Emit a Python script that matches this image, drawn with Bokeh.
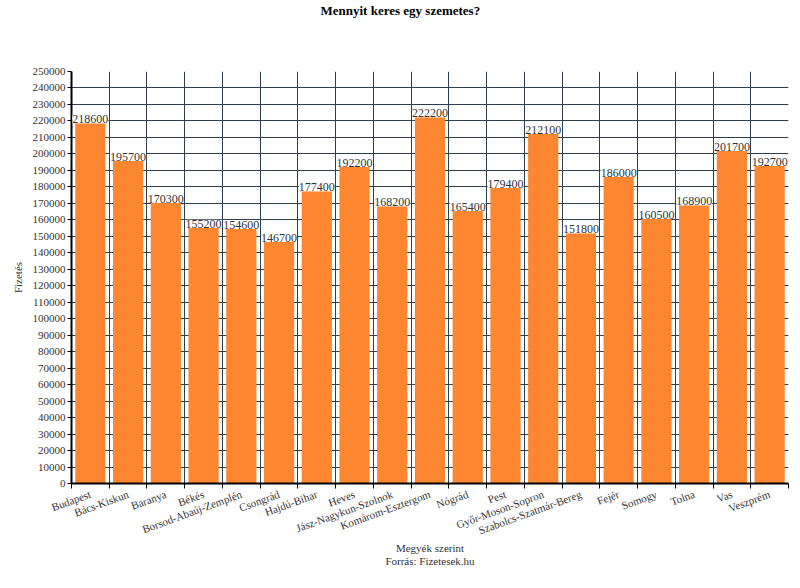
from bokeh.plotting import figure
from bokeh.models import (ColumnDataSource, Range1d, FixedTicker, LabelSet, Title,
                          NumeralTickFormatter)
from bokeh.core.properties import value
from bokeh.embed import file_html
from bokeh.resources import INLINE

counties = ["Budapest", "Bács-Kiskun", "Baranya", "Békés", "Borsod-Abaúj-Zemplén",
            "Csongrád", "Hajdú-Bihar", "Heves", "Jász-Nagykun-Szolnok",
            "Komárom-Esztergom", "Nógrád", "Pest", "Győr-Moson-Sopron",
            "Szabolcs-Szatmár-Bereg", "Fejér", "Somogy", "Tolna", "Vas", "Veszprém"]
salaries = [218600, 195700, 170300, 155200, 154600, 146700, 177400, 192200, 168200,
            222200, 165400, 179400, 212100, 151800, 186000, 160500, 168900, 201700, 192700]
y_ticks = list(range(0, 250001, 10000))

FONT = "Liberation Serif"
ORANGE = "#FD8631"
GRID = "#2E3F50"
TXT = "#333333"

n = len(counties)
xs = [i + 0.5 for i in range(n)]
source = ColumnDataSource(dict(x=xs, salary=salaries,
                               label=[str(v) for v in salaries], county=counties))

p = figure(width=800, height=588, output_backend="svg", toolbar_location=None,
           title=None, x_range=Range1d(0, n), y_range=Range1d(0, 250000),
           min_border_left=71, min_border_right=12, min_border_top=0,
           min_border_bottom=105, background_fill_color="white",
           outline_line_color=None)

p.vbar(x="x", top="salary", width=0.8, source=source,
       fill_color=ORANGE, line_color=None)

labels = LabelSet(x="x", y="salary", text="label", source=source,
                  text_align="center", text_baseline="bottom",
                  text_font=value(FONT), text_font_size="12px", text_color=TXT,
                  background_fill_color="white")
p.add_layout(labels)

# x axis
xa = p.xaxis[0]
xa.ticker = FixedTicker(ticks=xs, minor_ticks=list(range(n + 1)))
xa.major_label_overrides = {xv: c for xv, c in zip(xs, counties)}
xa.major_label_orientation = 0.35
xa.major_tick_out = 0
xa.major_tick_in = 0
xa.minor_tick_out = 5
xa.minor_tick_in = 0
xa.minor_tick_line_color = "black"
xa.axis_line_color = "black"
xa.axis_line_width = 2
xa.major_label_standoff = 5
xa.major_label_text_font = FONT
xa.major_label_text_font_size = "11px"
xa.major_label_text_color = TXT

p.xgrid.grid_line_color = None
p.xgrid.minor_grid_line_color = GRID
p.xgrid.minor_grid_line_width = 1

# y axis
ya = p.yaxis[0]
ya.ticker = FixedTicker(ticks=y_ticks)
ya.formatter = NumeralTickFormatter(format="0")
ya.major_tick_out = 4
ya.major_tick_in = 0
ya.minor_tick_line_color = None
ya.major_tick_line_color = "black"
ya.axis_line_color = "black"
ya.axis_line_width = 2
ya.major_label_standoff = 2
ya.major_label_text_font = FONT
ya.major_label_text_font_size = "11px"
ya.major_label_text_color = TXT
ya.axis_label = "Fizetés"
ya.axis_label_text_font = FONT
ya.axis_label_text_font_size = "11px"
ya.axis_label_text_font_style = "normal"
ya.axis_label_text_color = TXT
ya.axis_label_standoff = 6

p.ygrid.grid_line_color = GRID
p.ygrid.grid_line_width = 1

# below titles
p.add_layout(Title(text="Megyék szerint", align="center", text_font=FONT,
                   text_font_size="11px", text_font_style="normal",
                   vertical_align="top", text_color=TXT, standoff=-6), "below")
p.add_layout(Title(text="Forrás: Fizetesek.hu", align="center", text_font=FONT,
                   text_font_size="11px", text_font_style="normal",
                   vertical_align="top", text_color=TXT, standoff=4), "below")

# above: spacer then main title
p.add_layout(Title(text=" ", text_font_size="1px", standoff=51), "above")
p.add_layout(Title(text="Mennyit keres egy szemetes?", align="left", offset=249,
                   text_font=FONT, text_font_size="13px", text_font_style="bold",
                   text_color="black", standoff=0), "above")

open("out.html", "w").write(file_html(p, INLINE))
